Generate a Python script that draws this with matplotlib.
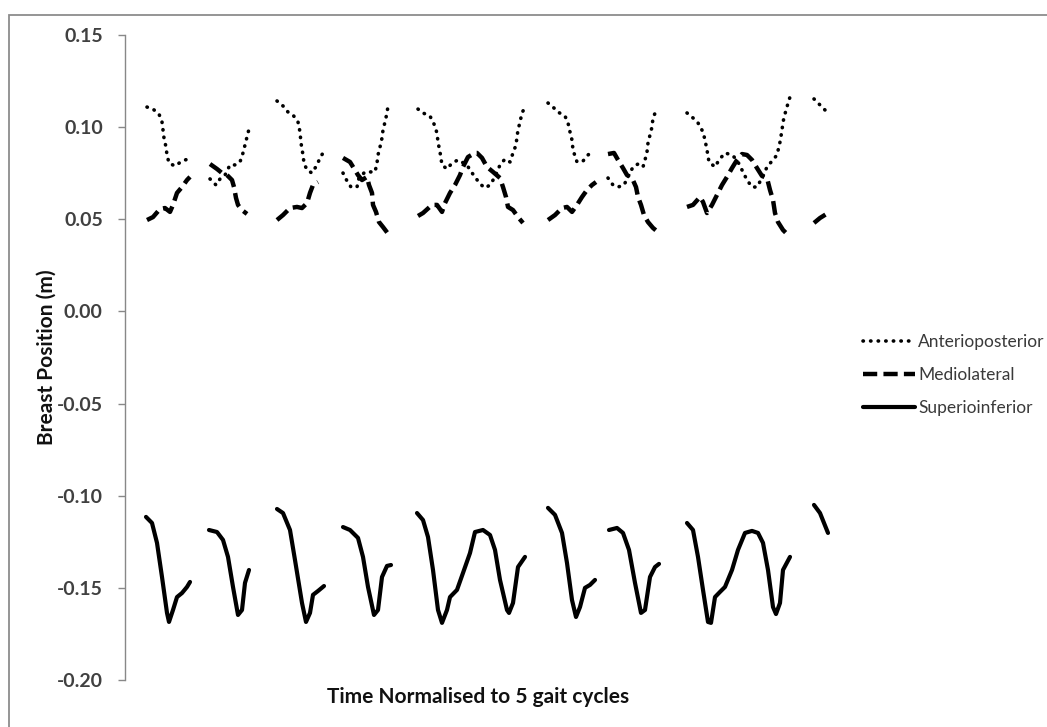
import numpy as np
import matplotlib
matplotlib.use("Agg")
import matplotlib.pyplot as plt
from matplotlib.patches import Rectangle

plt.rcParams["font.family"] = ["Lato", "DejaVu Sans"]

# time samples (normalised time, 5 gait cycles); None marks a gap between segments
ap_x = [22, 28, 34, 37, 38, 39, 41, 42, 44, 50, 57, 63, None,
        85, 91, 95, 100, 105, 110, 115, 118, 120, 122, 124, None,
        152, 158, 163, 168, 173, 175, 176, 178, 179, 182, 187, 192, 195, 198, None,
        218, 222, 226, 232, 234, 240, 245, 250, 252, 253, 255, 257, 258, 260, 262, 263, None,
        293, 298, 305, 309, 312, 313, 315, 317, 322, 327, 333, 342, 345, 350, 355, 360,
        365, 370, 375, 380, 385, 388, 391, 392, 393, 395, 397, 400, None,
        423, 428, 433, 440, 443, 445, 447, 448, 452, 458, 463, 468, None,
        483, 488, 493, 499, 503, 508, 513, 518, 520, 522, 523, 525, 527, 528, 531, None,
        562, 568, 573, 578, 580, 582, 584, 590, 594, 600, 607, 612, 617, 622, 627, 632,
        637, 642, 647, 652, 655, 657, 658, 661, 665, None,
        689, 700]
ap_y = [0.1109, 0.1098, 0.1071, 0.1028, 0.0984, 0.0941, 0.0892, 0.0849, 0.0805, 0.0789, 0.0816, 0.0827, None,
        0.0719, 0.0686, 0.0719, 0.0740, 0.0795, 0.0795, 0.0811, 0.0860, 0.0903, 0.0947, 0.0990, None,
        0.1142, 0.1115, 0.1082, 0.1066, 0.1028, 0.0974, 0.0914, 0.0849, 0.0805, 0.0767, 0.0751, 0.0795, 0.0833, 0.0860, None,
        0.0751, 0.0708, 0.0675, 0.0675, 0.0724, 0.0757, 0.0757, 0.0757, 0.0805, 0.0849, 0.0892, 0.0941, 0.0984, 0.1028, 0.1077, 0.1115, None,
        0.1098, 0.1077, 0.1060, 0.1017, 0.0968, 0.0919, 0.0865, 0.0795, 0.0773, 0.0805, 0.0822, 0.0795, 0.0767, 0.0730, 0.0692, 0.0670,
        0.0686, 0.0730, 0.0795, 0.0827, 0.0811, 0.0860, 0.0903, 0.0947, 0.0984, 0.1028, 0.1077, 0.1109, None,
        0.1131, 0.1109, 0.1082, 0.1060, 0.1023, 0.0974, 0.0930, 0.0876, 0.0811, 0.0816, 0.0849, 0.0870, None,
        0.0724, 0.0686, 0.0675, 0.0686, 0.0730, 0.0784, 0.0800, 0.0784, 0.0822, 0.0865, 0.0914, 0.0957, 0.1001, 0.1050, 0.1088, None,
        0.1077, 0.1050, 0.1023, 0.0974, 0.0930, 0.0876, 0.0811, 0.0784, 0.0822, 0.0860, 0.0849, 0.0822, 0.0767, 0.0713, 0.0675, 0.0675,
        0.0724, 0.0784, 0.0816, 0.0849, 0.0919, 0.0984, 0.1028, 0.1093, 0.1164, None,
        0.1153, 0.1093]

ml_x = [22, 28, 35, 40, 45, 48, 52, 57, 62, 65, None,
        85, 92, 97, 102, 107, 109, 111, 113, 117, 122, None,
        152, 158, 165, 172, 177, 182, 185, 188, 193, None,
        218, 225, 230, 233, 237, 242, 244, 247, 248, 251, 254, 258, 264, None,
        293, 298, 307, 312, 317, 320, 325, 330, 335, 338, 343, 350, 352, 357, 362, 368,
        375, 378, 381, 383, 388, 393, 398, None,
        423, 430, 437, 442, 447, 452, 457, 462, 467, 471, None,
        483, 489, 493, 498, 502, 507, 511, 513, 516, 519, 523, 528, 534, None,
        562, 568, 575, 578, 582, 587, 592, 597, 602, 607, 612, 617, 622, 627, 632, 637,
        642, 645, 648, 650, 653, 658, 665, None,
        689, 695, 703]
ml_y = [0.0496, 0.0512, 0.0556, 0.0561, 0.0540, 0.0578, 0.0643, 0.0675, 0.0713, 0.0730, None,
        0.0800, 0.0773, 0.0751, 0.0740, 0.0713, 0.0675, 0.0616, 0.0578, 0.0550, 0.0529, None,
        0.0496, 0.0523, 0.0561, 0.0567, 0.0561, 0.0588, 0.0643, 0.0686, 0.0702, None,
        0.0833, 0.0811, 0.0767, 0.0740, 0.0713, 0.0730, 0.0686, 0.0643, 0.0578, 0.0540, 0.0485, 0.0458, 0.0415, None,
        0.0518, 0.0534, 0.0578, 0.0578, 0.0540, 0.0588, 0.0643, 0.0686, 0.0740, 0.0784, 0.0838, 0.0860, 0.0860, 0.0833, 0.0784, 0.0757,
        0.0724, 0.0675, 0.0621, 0.0567, 0.0550, 0.0512, 0.0480, None,
        0.0496, 0.0523, 0.0561, 0.0567, 0.0540, 0.0578, 0.0621, 0.0659, 0.0686, 0.0702, None,
        0.0854, 0.0860, 0.0822, 0.0778, 0.0740, 0.0724, 0.0675, 0.0621, 0.0578, 0.0523, 0.0485, 0.0453, 0.0426, None,
        0.0567, 0.0578, 0.0621, 0.0594, 0.0534, 0.0578, 0.0632, 0.0686, 0.0730, 0.0778, 0.0822, 0.0854, 0.0849, 0.0822, 0.0778, 0.0735,
        0.0724, 0.0659, 0.0605, 0.0534, 0.0485, 0.0442, 0.0404, None,
        0.0480, 0.0507, 0.0534]

si_x = [21, 27, 32, 37, 42, 44, 48, 52, 57, 62, 65, None,
        84, 92, 98, 103, 108, 113, 117, 120, 124, None,
        152, 158, 165, 170, 177, 181, 185, 188, 193, 199, None,
        218, 225, 233, 238, 243, 249, 253, 257, 262, 266, None,
        292, 298, 303, 308, 313, 317, 322, 325, 332, 338, 345, 350, 358, 365, 370, 375,
        382, 384, 388, 393, 400, None,
        423, 430, 437, 442, 447, 451, 455, 460, 465, 470, None,
        484, 492, 498, 504, 510, 516, 520, 525, 530, 534, None,
        562, 568, 573, 578, 583, 586, 590, 595, 600, 607, 613, 620, 627, 633, 638, 643,
        648, 651, 655, 658, 665, None,
        689, 695, 703]
si_y = [-0.1115, -0.1148, -0.1256, -0.1441, -0.1636, -0.1685, -0.1620, -0.1550, -0.1528, -0.1495, -0.1468, None,
        -0.1186, -0.1197, -0.1240, -0.1332, -0.1495, -0.1647, -0.1620, -0.1473, -0.1403, None,
        -0.1072, -0.1094, -0.1186, -0.1349, -0.1582, -0.1685, -0.1636, -0.1538, -0.1517, -0.1490, None,
        -0.1170, -0.1186, -0.1229, -0.1332, -0.1495, -0.1647, -0.1620, -0.1441, -0.1381, -0.1376, None,
        -0.1094, -0.1132, -0.1224, -0.1403, -0.1620, -0.1690, -0.1620, -0.1550, -0.1511, -0.1419, -0.1311, -0.1197, -0.1186, -0.1213, -0.1294, -0.1457,
        -0.1620, -0.1636, -0.1582, -0.1387, -0.1332, None,
        -0.1066, -0.1104, -0.1202, -0.1365, -0.1566, -0.1658, -0.1604, -0.1500, -0.1484, -0.1457, None,
        -0.1186, -0.1175, -0.1202, -0.1294, -0.1473, -0.1636, -0.1620, -0.1441, -0.1387, -0.1370, None,
        -0.1148, -0.1186, -0.1332, -0.1511, -0.1685, -0.1690, -0.1550, -0.1522, -0.1495, -0.1403, -0.1294, -0.1202, -0.1191, -0.1202, -0.1256, -0.1403,
        -0.1604, -0.1642, -0.1582, -0.1403, -0.1332, None,
        -0.1050, -0.1094, -0.1202]

y_ticks = [0.15, 0.10, 0.05, 0.00, -0.05, -0.10, -0.15, -0.20]


def arr(v):
    return np.array([np.nan if a is None else a for a in v], dtype=float)


W, H = 1047, 727
fig = plt.figure(figsize=(W / 100, H / 100), dpi=100)
ax = fig.add_axes([125 / W, (H - 680) / H, 710 / W, 645 / H])

ax.plot(arr(ap_x), arr(ap_y), color="black", lw=2.6, linestyle=(0, (0.1, 2.0)),
        dash_capstyle="round", dash_joinstyle="round", label="Anterioposterior")
ax.plot(arr(ml_x), arr(ml_y), color="black", lw=3.2, linestyle=(0, (3.2, 1.4)),
        dash_capstyle="butt", dash_joinstyle="round", label="Mediolateral")
ax.plot(arr(si_x), arr(si_y), color="black", lw=3.0, solid_capstyle="round",
        solid_joinstyle="round", label="Superioinferior")

ax.set_xlim(0, 710)
ax.set_ylim(-0.20, 0.15)
ax.set_yticks(y_ticks)
ax.set_yticklabels([f"{t:.2f}" for t in y_ticks], fontsize=14, fontweight="bold", color="#404040")
ax.set_xticks([])
for s in ["top", "right", "bottom"]:
    ax.spines[s].set_visible(False)
ax.spines["left"].set_color("#888888")
ax.spines["left"].set_linewidth(1.0)
ax.tick_params(axis="y", direction="out", length=5, width=1.0, color="#888888", pad=11)

fig.text(47 / W, 1 - 357 / H, "Breast Position (m)", rotation=90, ha="center", va="center",
         fontsize=15, fontweight="bold", color="#111111")
fig.text(478 / W, 1 - 697 / H, "Time Normalised to 5 gait cycles", ha="center", va="center",
         fontsize=15, fontweight="bold", color="#111111")

leg = ax.legend(loc="center left", bbox_to_anchor=(854 / W, 1 - 375 / H),
                bbox_transform=fig.transFigure, frameon=False, fontsize=12.5,
                handlelength=3.0, handletextpad=0.2, labelspacing=1.0, borderpad=0)
for t in leg.get_texts():
    t.set_color("#3a3a3a")

# chart area border (only top and left edges visible in the crop)
fig.patches.append(Rectangle((9 / W, -0.1), 1.2, 1 - 15 / H + 0.1, transform=fig.transFigure,
                             fill=False, edgecolor="#8c8c8c", linewidth=1.3))

fig.savefig("out.png", dpi=100)
